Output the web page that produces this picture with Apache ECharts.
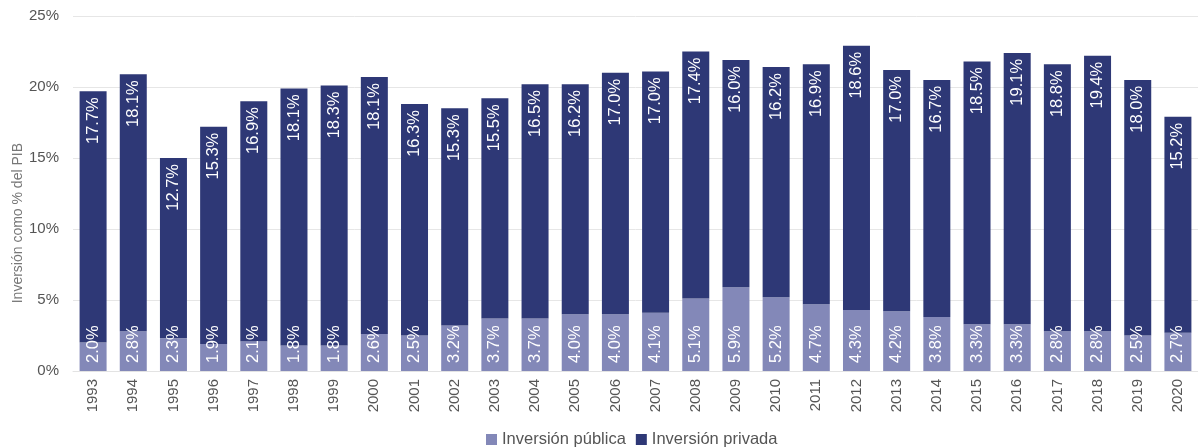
<!DOCTYPE html>
<html><head><meta charset="utf-8">
<script src="https://cdn.jsdelivr.net/npm/echarts@6/dist/echarts.min.js"></script>
<style>html,body{margin:0;padding:0;background:#fff}#c{width:1198px;height:448px}</style>
</head><body><div id="c"></div>
<script>
const years = ['1993','1994','1995','1996','1997','1998','1999','2000','2001','2002','2003','2004','2005','2006','2007','2008','2009','2010','2011','2012','2013','2014','2015','2016','2017','2018','2019','2020'];
const publica = [2.0,2.8,2.3,1.9,2.1,1.8,1.8,2.6,2.5,3.2,3.7,3.7,4.0,4.0,4.1,5.1,5.9,5.2,4.7,4.3,4.2,3.8,3.3,3.3,2.8,2.8,2.5,2.7];
const privada = [17.7,18.1,12.7,15.3,16.9,18.1,18.3,18.1,16.3,15.3,15.5,16.5,16.2,17.0,17.0,17.4,16.0,16.2,16.9,18.6,17.0,16.7,18.5,19.1,18.8,19.4,18.0,15.2];
const seriesNames = ['Inversión pública','Inversión privada'];
const yAxisTitle = 'Inversión como % del PIB';

const FONT = 'Liberation Sans, Arial, sans-serif';
const chart = echarts.init(document.getElementById('c'), null, {renderer:'canvas'});
const lbl = (pos, align, dist) => ({
  show:true, position:pos, rotate:90, align:align, verticalAlign:'middle', distance:dist,
  color:'#fff', fontSize:16.5, fontFamily:FONT,
  formatter: p => p.value.toFixed(1) + '%'
});
chart.setOption({
  animation:false,
  grid:{left:73, right:-6, top:16, bottom:77, containLabel:false},
  legend:{top:426, left:481, itemWidth:11, itemHeight:11, itemGap:10,
    icon:'rect', textStyle:{color:'#555', fontSize:16.5, fontFamily:FONT},
    data:seriesNames},
  xAxis:{type:'category', data:years,
    axisLine:{lineStyle:{color:'#e3e3e3'}}, axisTick:{show:false},
    axisLabel:{rotate:90, color:'#555', fontSize:15, fontFamily:FONT, margin:8}},
  yAxis:{type:'value', min:0, max:25, interval:5,
    axisLabel:{formatter:'{value}%', color:'#555', fontSize:15, fontFamily:FONT, margin:14},
    splitLine:{lineStyle:{color:'#e6e6e6'}}, axisLine:{show:false}, axisTick:{show:false}},
  graphic:[{type:'text', left:11, top:143, rotation:Math.PI/2,
    style:{text:yAxisTitle, fill:'#777', fontSize:14, fontFamily:FONT}}],
  series:[
    {name:seriesNames[0], type:'bar', stack:'t', data:publica, barWidth:27,
     itemStyle:{color:'#8388B8'}, label:lbl('insideBottom','left',8)},
    {name:seriesNames[1], type:'bar', stack:'t', data:privada, barWidth:27,
     itemStyle:{color:'#2E3876'}, label:lbl('insideTop','right',6)}
  ]
});
</script></body></html>
